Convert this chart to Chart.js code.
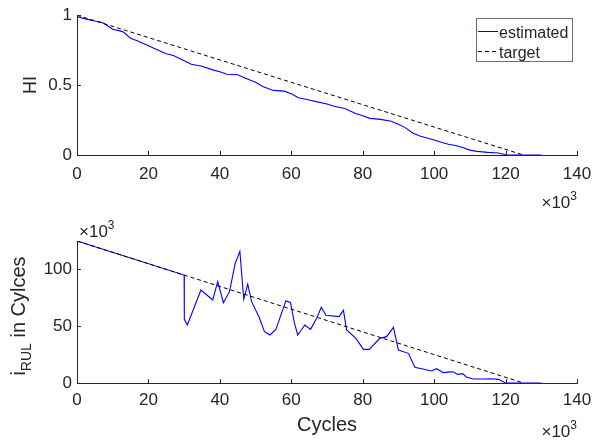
<!DOCTYPE html>
<html><head><meta charset="utf-8">
<script src="https://cdn.jsdelivr.net/npm/chart.js@4.4.0/dist/chart.umd.min.js"></script>
<style>
html,body{margin:0;padding:0;background:#fff;}
#wrap{position:relative;width:603px;height:440px;overflow:hidden;}
canvas{position:absolute;left:0;}
</style>
</head><body>
<div id="wrap">
<canvas id="c1" width="603" height="220" style="top:0px"></canvas>
<canvas id="c2" width="603" height="220" style="top:220px"></canvas>
</div>
<script>
// ---- data (cycles in thousands, axis shows x10^3) ----
const xTicks = [0, 20, 40, 60, 80, 100, 120, 140];
const hiTicks = [0, 0.5, 1];
const rulTicks = [0, 50, 100];

const hiCycles = [0,0.5,3,5,7,8,10,12,13,15,17,20,22,24,25,27,30,32,35,38,40,42,45,47,50,52,55,58,60,62,65,67,70,72,75,78,80,82,85,88,90,92,94,96,98,100,102,104,106,108,110,112,115,118,120,122,126,130];
const hiValues = [1.0,0.985,0.97,0.958,0.948,0.934,0.9,0.888,0.88,0.835,0.815,0.782,0.758,0.735,0.724,0.712,0.675,0.649,0.635,0.609,0.595,0.578,0.574,0.55,0.52,0.49,0.462,0.457,0.438,0.41,0.393,0.382,0.365,0.349,0.333,0.297,0.281,0.262,0.255,0.241,0.22,0.194,0.157,0.136,0.122,0.108,0.091,0.077,0.068,0.054,0.035,0.026,0.019,0.014,0.002,0,0,0];
const hiTargetCycles = [0, 125];
const hiTargetValues = [1, 0];

const rulCycles = [0,30,30.05,30.9,34.7,38.0,39.4,41.0,42.7,44.3,45.6,46.7,47.8,48.9,51.0,52.5,54.0,55.7,58.5,59.8,60.8,61.8,63.8,65.4,67.1,68.4,69.7,73.4,74.6,75.5,78.1,80.2,81.8,84.8,86.7,88.6,90.0,92.8,94.6,99.3,100.7,102.6,104.5,105.5,106.5,108,109,111,114,116,118,120,130];
const rulValues = [125,95,56.1,51.1,81.9,73.1,89.2,70.7,80.4,105.3,115.9,73.7,87.1,71.6,57.8,45.2,42.3,47.2,72.5,70.7,54.0,42.3,51.1,47.2,56.9,66.6,59.6,58.4,64.0,46.7,39.3,29.6,29.6,39.3,40.8,49.0,29.0,26.1,13.8,10.6,12.6,9.1,9.8,9.7,7.6,8.2,5.3,3.5,3.5,3.8,3.2,0,0];
const rulTargetCycles = [0, 125];
const rulTargetValues = [125, 0];

const FONT = "'Liberation Sans', Arial, Helvetica, sans-serif";
const TXT = '#262626';

function pts(xs, ys) { return xs.map((x, i) => ({x: x, y: ys[i]})); }

function drawExp(ctx, x, baseline, align) {
  ctx.save();
  ctx.fillStyle = TXT;
  ctx.textBaseline = 'alphabetic';
  ctx.textAlign = 'left';
  ctx.font = '17px ' + FONT;
  const main = '\u00d710';
  const wMain = ctx.measureText(main).width;
  ctx.font = '12px ' + FONT;
  const wSup = ctx.measureText('3').width;
  const x0 = align === 'right' ? x - wMain - wSup : x;
  ctx.font = '17px ' + FONT;
  ctx.fillText(main, x0, baseline);
  ctx.font = '12px ' + FONT;
  ctx.fillText('3', x0 + wMain, baseline - 8);
  ctx.restore();
}

const matlabAxes = {
  id: 'matlabAxes',
  afterDraw(chart, args, opts) {
    const ctx = chart.ctx;
    const {left, bottom} = chart.chartArea;
    const xs = chart.scales.x, ys = chart.scales.y;
    ctx.save();
    ctx.strokeStyle = TXT;
    ctx.lineWidth = 1;
    ctx.beginPath();
    xs.ticks.forEach(t => {
      const px = Math.round(xs.getPixelForValue(t.value)) + 0.5;
      ctx.moveTo(px, bottom); ctx.lineTo(px, bottom - 4);
    });
    ys.ticks.forEach(t => {
      const py = Math.round(ys.getPixelForValue(t.value)) + 0.5;
      ctx.moveTo(left, py); ctx.lineTo(left + 4, py);
    });
    ctx.stroke();
    ctx.restore();
    (opts.exps || []).forEach(e => drawExp(ctx, e.x, e.y, e.align));
    if (opts.legend) {
      const L = opts.legend;
      ctx.save();
      ctx.fillStyle = '#fff';
      ctx.fillRect(L.x, L.y, L.w, L.h);
      ctx.strokeStyle = '#6e6e6e';
      ctx.lineWidth = 1;
      ctx.strokeRect(L.x + 0.5, L.y + 0.5, L.w, L.h);
      ctx.font = '16px ' + FONT;
      ctx.textBaseline = 'alphabetic';
      ctx.textAlign = 'left';
      chart.data.datasets.forEach((ds, i) => {
        const cy = L.y + 13.5 + i * 20;
        ctx.beginPath();
        ctx.strokeStyle = ds.borderColor;
        ctx.setLineDash(ds.borderDash || []);
        ctx.moveTo(L.x + 2, cy); ctx.lineTo(L.x + 22, cy);
        ctx.stroke();
        ctx.setLineDash([]);
        ctx.fillStyle = TXT;
        ctx.fillText(ds.label, L.x + 23, cy + 6);
      });
      ctx.restore();
    }
    if (opts.ylabel) {
      const Y = opts.ylabel;
      ctx.save();
      ctx.fillStyle = TXT;
      ctx.textBaseline = 'alphabetic';
      ctx.textAlign = 'left';
      const parts = [
        {t: Y.base, f: '20px ' + FONT, dy: 0},
        {t: Y.sub, f: '14px ' + FONT, dy: 6},
        {t: Y.rest, f: '20px ' + FONT, dy: 0}
      ];
      let total = 0;
      parts.forEach(p => { ctx.font = p.f; p.w = ctx.measureText(p.t).width; total += p.w; });
      ctx.translate(Y.x, Y.cy);
      ctx.rotate(-Math.PI / 2);
      let cx = -total / 2;
      parts.forEach(p => { ctx.font = p.f; ctx.fillText(p.t, cx, p.dy); cx += p.w; });
      ctx.restore();
    }
  }
};

function axisOpts(cfg) {
  return {
    type: 'linear', min: cfg.min, max: cfg.max,
    afterBuildTicks: s => { s.ticks = cfg.ticks.map(v => ({value: v})); },
    afterFit: s => { if (cfg.h !== undefined) s.height = cfg.h; if (cfg.w !== undefined) s.width = cfg.w; },
    grid: {display: true, drawOnChartArea: false, drawTicks: false},
    border: {display: true, color: TXT, width: 1},
    ticks: {padding: cfg.pad, color: TXT, font: {family: FONT, size: 17}, maxRotation: 0, autoSkip: false,
            callback: v => String(v)},
    title: cfg.title || {display: false}
  };
}

// ---- top chart: HI ----
new Chart(document.getElementById('c1'), {
  type: 'line',
  data: {
    datasets: [
      {label: 'estimated', data: pts(hiCycles, hiValues), borderColor: '#0000ff', borderWidth: 1.1, pointRadius: 0, tension: 0, order: 1},
      {label: 'target', data: pts(hiTargetCycles, hiTargetValues), borderColor: '#000000', borderWidth: 1, borderDash: [4, 3], pointRadius: 0, tension: 0, order: 0}
    ]
  },
  options: {
    responsive: false, animation: false, devicePixelRatio: 1,
    layout: {padding: {left: 0, right: 26, top: 13, bottom: 0}},
    plugins: {
      legend: {display: false}, tooltip: {enabled: false},
      matlabAxes: {exps: [{x: 577, y: 208, align: 'right'}], legend: {x: 476, y: 18, w: 96, h: 43}}
    },
    scales: {
      x: axisOpts({min: 0, max: 140, ticks: xTicks, h: 65, pad: 9}),
      y: axisOpts({min: 0, max: 1, ticks: hiTicks, w: 77, pad: 5,
        title: {display: true, text: 'HI', color: TXT, font: {family: FONT, size: 18}, padding: {top: 20, bottom: 0}}})
    }
  },
  plugins: [matlabAxes]
});

// ---- bottom chart: RUL ----
new Chart(document.getElementById('c2'), {
  type: 'line',
  data: {
    datasets: [
      {label: 'estimated', data: pts(rulCycles, rulValues), borderColor: '#0000ff', borderWidth: 1.1, pointRadius: 0, tension: 0, order: 1},
      {label: 'target', data: pts(rulTargetCycles, rulTargetValues), borderColor: '#000000', borderWidth: 1, borderDash: [4, 3], pointRadius: 0, tension: 0, order: 0}
    ]
  },
  options: {
    responsive: false, animation: false, devicePixelRatio: 1,
    layout: {padding: {left: 0, right: 26, top: 21, bottom: 0}},
    plugins: {
      legend: {display: false}, tooltip: {enabled: false},
      matlabAxes: {
        exps: [{x: 577, y: 217, align: 'right'}, {x: 79, y: 17, align: 'left'}],
        ylabel: {base: 'i', sub: 'RUL', rest: ' in Cylces', x: 25, cy: 96}
      }
    },
    scales: {
      x: axisOpts({min: 0, max: 140, ticks: xTicks, h: 57, pad: 7,
        title: {display: true, text: 'Cycles', color: TXT, font: {family: FONT, size: 20}, padding: {top: 0, bottom: 3}}}),
      y: axisOpts({min: 0, max: 125, ticks: rulTicks, w: 77, pad: 5})
    }
  },
  plugins: [matlabAxes]
});
</script>
</body></html>
